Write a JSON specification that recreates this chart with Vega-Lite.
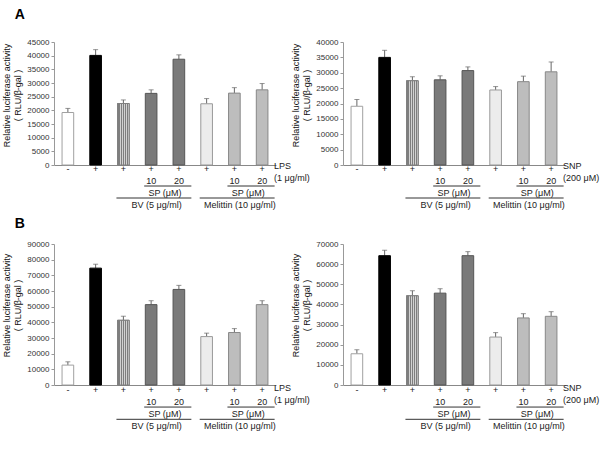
{
  "$schema": "https://vega.github.io/schema/vega-lite/v6.json",
  "padding": {"left": 2, "top": 8, "right": 0, "bottom": 0},
  "config": {
    "font": "Liberation Sans",
    "view": {"stroke": null},
    "axis": {"grid": false},
    "text": {"fontSize": 9, "color": "#222222"},
    "title": {"fontSize": 14, "fontWeight": "bold", "color": "#000000", "anchor": "start", "frame": "bounds"}
  },
  "datasets": {
    "bars": [
      {"p": "AL", "id": "1", "g": "ctrl", "v": 19200, "u": 20700},
      {"p": "AL", "id": "2", "g": "stim", "v": 40100, "u": 42200},
      {"p": "AL", "id": "3", "g": "bv", "v": 22500, "u": 23800},
      {"p": "AL", "id": "4", "g": "bvsp", "v": 26200, "u": 27500},
      {"p": "AL", "id": "5", "g": "bvsp", "v": 38700, "u": 40300},
      {"p": "AL", "id": "6", "g": "mel", "v": 22400, "u": 24300},
      {"p": "AL", "id": "7", "g": "melsp", "v": 26300, "u": 28300},
      {"p": "AL", "id": "8", "g": "melsp", "v": 27500, "u": 29800},
      {"p": "AR", "id": "1", "g": "ctrl", "v": 19100, "u": 21300},
      {"p": "AR", "id": "2", "g": "stim", "v": 35000, "u": 37300},
      {"p": "AR", "id": "3", "g": "bv", "v": 27400, "u": 28700},
      {"p": "AR", "id": "4", "g": "bvsp", "v": 27700, "u": 29000},
      {"p": "AR", "id": "5", "g": "bvsp", "v": 30700, "u": 31900},
      {"p": "AR", "id": "6", "g": "mel", "v": 24400, "u": 25500},
      {"p": "AR", "id": "7", "g": "melsp", "v": 27100, "u": 28900},
      {"p": "AR", "id": "8", "g": "melsp", "v": 30300, "u": 33500},
      {"p": "BL", "id": "1", "g": "ctrl", "v": 12700, "u": 14800},
      {"p": "BL", "id": "2", "g": "stim", "v": 74600, "u": 77100},
      {"p": "BL", "id": "3", "g": "bv", "v": 41300, "u": 43900},
      {"p": "BL", "id": "4", "g": "bvsp", "v": 51300, "u": 53800},
      {"p": "BL", "id": "5", "g": "bvsp", "v": 61000, "u": 63600},
      {"p": "BL", "id": "6", "g": "mel", "v": 30900, "u": 33100},
      {"p": "BL", "id": "7", "g": "melsp", "v": 33500, "u": 36000},
      {"p": "BL", "id": "8", "g": "melsp", "v": 51300, "u": 53800},
      {"p": "BR", "id": "1", "g": "ctrl", "v": 15500, "u": 17500},
      {"p": "BR", "id": "2", "g": "stim", "v": 64200, "u": 66900},
      {"p": "BR", "id": "3", "g": "bv", "v": 44300, "u": 46800},
      {"p": "BR", "id": "4", "g": "bvsp", "v": 45600, "u": 47800},
      {"p": "BR", "id": "5", "g": "bvsp", "v": 64200, "u": 66200},
      {"p": "BR", "id": "6", "g": "mel", "v": 23800, "u": 26000},
      {"p": "BR", "id": "7", "g": "melsp", "v": 33300, "u": 35400},
      {"p": "BR", "id": "8", "g": "melsp", "v": 34100, "u": 36400}
    ],
    "labels": [
      {"k": "pm", "row": "r1", "id": "1", "t": "-"},
      {"k": "pm", "row": "r1", "id": "2", "t": "+"},
      {"k": "pm", "row": "r1", "id": "3", "t": "+"},
      {"k": "pm", "row": "r1", "id": "4", "t": "+"},
      {"k": "pm", "row": "r1", "id": "5", "t": "+"},
      {"k": "pm", "row": "r1", "id": "6", "t": "+"},
      {"k": "pm", "row": "r1", "id": "7", "t": "+"},
      {"k": "pm", "row": "r1", "id": "8", "t": "+"},
      {"k": "pm", "row": "r2", "id": "4", "t": "10"},
      {"k": "pm", "row": "r2", "id": "5", "t": "20"},
      {"k": "pm", "row": "r2", "id": "7", "t": "10"},
      {"k": "pm", "row": "r2", "id": "8", "t": "20"},
      {"k": "sp", "row": "r3", "id": "4", "t": "SP (μM)"},
      {"k": "sp", "row": "r3", "id": "7", "t": "SP (μM)"},
      {"k": "ag", "row": "r4", "id": "4", "t": "BV (5  μg/ml)"},
      {"k": "ag", "row": "r4", "id": "7", "t": "Melittin (10 μg/ml)"},
      {"k": "LPS", "row": "r1", "id": "8", "t": "LPS"},
      {"k": "LPS", "row": "r2", "id": "8", "t": "(1 μg/ml)"},
      {"k": "SNP", "row": "r1", "id": "8", "t": "SNP"},
      {"k": "SNP", "row": "r2", "id": "8", "t": "(200 μM)"}
    ],
    "lines": [
      {"row": "r2", "a": "4", "b": "5"},
      {"row": "r2", "a": "7", "b": "8"},
      {"row": "r3", "a": "3", "b": "5"},
      {"row": "r3", "a": "6", "b": "8"}
    ]
  },
  "spacing": 4,
  "vconcat": [
    {
      "title": {"text": "A", "dx": 12, "offset": 16},
      "spacing": -19,
      "hconcat": [
        {
          "bounds": "flush",
          "spacing": 0,
          "vconcat": [
            {
              "width": 222, "height": 123,
              "data": {"name": "bars"},
              "transform": [{"filter": "datum.p === 'AL'"}],
              "encoding": {
                "x": {"field": "id", "type": "nominal", "scale": {"domain": ["1","2","3","4","5","6","7","8"], "paddingInner": 0, "paddingOuter": 0}, "axis": {"labels": false, "ticks": false, "title": null, "domainColor": "#888888"}},
                "y": {"field": "v", "type": "quantitative", "scale": {"domain": [0, 45000]}, "axis": {"values": [0,5000,10000,15000,20000,25000,30000,35000,40000,45000], "format": "d", "title": ["Relative luciferase activity", "( RLU/β-gal )"], "titleFontSize": 9, "titleFontWeight": "normal", "titleLineHeight": 11, "titlePadding": 4, "titleColor": "#111111", "titleY": 53, "labelFontSize": 8, "labelColor": "#333333", "labelPadding": 2, "tickSize": 3, "tickColor": "#999999", "domainColor": "#999999"}}
              },
              "layer": [
                {"mark": {"type": "rule", "color": "#666666"}, "encoding": {"y2": {"field": "u"}}},
                {"mark": {"type": "bar", "width": {"band": 0.42}, "strokeWidth": 1},
                 "encoding": {
                   "fill": {"field": "g", "type": "nominal", "scale": {"domain": ["ctrl","stim","bv","bvsp","mel","melsp"], "range": ["#ffffff","#000000","#a6a6a6","#7a7a7a","#ececec","#bdbdbd"]}, "legend": null},
                   "stroke": {"field": "g", "type": "nominal", "scale": {"domain": ["ctrl","stim","bv","bvsp","mel","melsp"], "range": ["#a0a0a0","#000000","#777777","#555555","#999999","#888888"]}, "legend": null}
                 }},
                {"transform": [{"filter": "datum.g === 'bv'"}], "mark": {"type": "bar", "width": {"band": 0.42}, "strokeWidth": 1, "stroke": "#808080", "fill": {"gradient": "linear", "x1": 0, "y1": 0, "x2": 1, "y2": 0, "stops": [{"offset": 0, "color": "#7e7e7e"}, {"offset": 0.0833, "color": "#7e7e7e"}, {"offset": 0.0833, "color": "#d2d2d2"}, {"offset": 0.1667, "color": "#d2d2d2"}, {"offset": 0.1667, "color": "#7e7e7e"}, {"offset": 0.25, "color": "#7e7e7e"}, {"offset": 0.25, "color": "#d2d2d2"}, {"offset": 0.3333, "color": "#d2d2d2"}, {"offset": 0.3333, "color": "#7e7e7e"}, {"offset": 0.4167, "color": "#7e7e7e"}, {"offset": 0.4167, "color": "#d2d2d2"}, {"offset": 0.5, "color": "#d2d2d2"}, {"offset": 0.5, "color": "#7e7e7e"}, {"offset": 0.5833, "color": "#7e7e7e"}, {"offset": 0.5833, "color": "#d2d2d2"}, {"offset": 0.6667, "color": "#d2d2d2"}, {"offset": 0.6667, "color": "#7e7e7e"}, {"offset": 0.75, "color": "#7e7e7e"}, {"offset": 0.75, "color": "#d2d2d2"}, {"offset": 0.8333, "color": "#d2d2d2"}, {"offset": 0.8333, "color": "#7e7e7e"}, {"offset": 0.9167, "color": "#7e7e7e"}, {"offset": 0.9167, "color": "#d2d2d2"}, {"offset": 1, "color": "#d2d2d2"}]}}},
                {"mark": {"type": "tick", "orient": "horizontal", "size": 5, "thickness": 1, "color": "#666666"}, "encoding": {"y": {"field": "u", "type": "quantitative"}}}
              ]
            },
            {
              "width": 222, "height": 48,
              "encoding": {
                "x": {"field": "id", "type": "nominal", "scale": {"domain": ["1","2","3","4","5","6","7","8"], "paddingInner": 0, "paddingOuter": 0}, "axis": null},
                "y": {"field": "row", "type": "nominal", "bandPosition": 0.5, "scale": {"type": "band", "domain": ["r1","r2","r3","r4"], "paddingInner": 0, "paddingOuter": 0}, "axis": null}
              },
              "layer": [
                {"data": {"name": "labels"}, "transform": [{"filter": "datum.k === 'pm'"}], "mark": {"type": "text", "dy": -2}, "encoding": {"x": {"field": "id", "type": "nominal", "bandPosition": 0.5}, "text": {"field": "t"}}},
                {"data": {"name": "labels"}, "transform": [{"filter": "datum.k === 'sp'"}], "mark": {"type": "text", "dy": -2}, "encoding": {"x": {"field": "id", "type": "nominal", "bandPosition": 1}, "text": {"field": "t"}}},
                {"data": {"name": "labels"}, "transform": [{"filter": "datum.k === 'ag'"}], "mark": {"type": "text", "dy": -2}, "encoding": {"x": {"field": "id", "type": "nominal", "bandPosition": 0.7}, "text": {"field": "t"}}},
                {"data": {"name": "labels"}, "transform": [{"filter": "datum.k === 'LPS'"}], "mark": {"type": "text", "dy": -5, "align": "left", "dx": -2}, "encoding": {"x": {"field": "id", "type": "nominal", "bandPosition": 1}, "text": {"field": "t"}}},
                {"data": {"name": "lines"}, "mark": {"type": "rule", "color": "#333333"}, "encoding": {"x": {"field": "a", "type": "nominal", "bandPosition": 0.25}, "x2": {"field": "b", "bandPosition": 0.95}, "y": {"field": "row", "type": "nominal", "bandPosition": 0.75}}}
              ]
            }
          ]
        },
        {
          "bounds": "flush",
          "spacing": 0,
          "vconcat": [
            {
              "width": 222, "height": 123,
              "data": {"name": "bars"},
              "transform": [{"filter": "datum.p === 'AR'"}],
              "encoding": {
                "x": {"field": "id", "type": "nominal", "scale": {"domain": ["1","2","3","4","5","6","7","8"], "paddingInner": 0, "paddingOuter": 0}, "axis": {"labels": false, "ticks": false, "title": null, "domainColor": "#888888"}},
                "y": {"field": "v", "type": "quantitative", "scale": {"domain": [0, 40000]}, "axis": {"values": [0,5000,10000,15000,20000,25000,30000,35000,40000], "format": "d", "title": ["Relative luciferase activity", "( RLU/β-gal )"], "titleFontSize": 9, "titleFontWeight": "normal", "titleLineHeight": 11, "titlePadding": 4, "titleColor": "#111111", "titleY": 53, "labelFontSize": 8, "labelColor": "#333333", "labelPadding": 2, "tickSize": 3, "tickColor": "#999999", "domainColor": "#999999"}}
              },
              "layer": [
                {"mark": {"type": "rule", "color": "#666666"}, "encoding": {"y2": {"field": "u"}}},
                {"mark": {"type": "bar", "width": {"band": 0.42}, "strokeWidth": 1},
                 "encoding": {
                   "fill": {"field": "g", "type": "nominal", "scale": {"domain": ["ctrl","stim","bv","bvsp","mel","melsp"], "range": ["#ffffff","#000000","#a6a6a6","#7a7a7a","#ececec","#bdbdbd"]}, "legend": null},
                   "stroke": {"field": "g", "type": "nominal", "scale": {"domain": ["ctrl","stim","bv","bvsp","mel","melsp"], "range": ["#a0a0a0","#000000","#777777","#555555","#999999","#888888"]}, "legend": null}
                 }},
                {"transform": [{"filter": "datum.g === 'bv'"}], "mark": {"type": "bar", "width": {"band": 0.42}, "strokeWidth": 1, "stroke": "#808080", "fill": {"gradient": "linear", "x1": 0, "y1": 0, "x2": 1, "y2": 0, "stops": [{"offset": 0, "color": "#7e7e7e"}, {"offset": 0.0833, "color": "#7e7e7e"}, {"offset": 0.0833, "color": "#d2d2d2"}, {"offset": 0.1667, "color": "#d2d2d2"}, {"offset": 0.1667, "color": "#7e7e7e"}, {"offset": 0.25, "color": "#7e7e7e"}, {"offset": 0.25, "color": "#d2d2d2"}, {"offset": 0.3333, "color": "#d2d2d2"}, {"offset": 0.3333, "color": "#7e7e7e"}, {"offset": 0.4167, "color": "#7e7e7e"}, {"offset": 0.4167, "color": "#d2d2d2"}, {"offset": 0.5, "color": "#d2d2d2"}, {"offset": 0.5, "color": "#7e7e7e"}, {"offset": 0.5833, "color": "#7e7e7e"}, {"offset": 0.5833, "color": "#d2d2d2"}, {"offset": 0.6667, "color": "#d2d2d2"}, {"offset": 0.6667, "color": "#7e7e7e"}, {"offset": 0.75, "color": "#7e7e7e"}, {"offset": 0.75, "color": "#d2d2d2"}, {"offset": 0.8333, "color": "#d2d2d2"}, {"offset": 0.8333, "color": "#7e7e7e"}, {"offset": 0.9167, "color": "#7e7e7e"}, {"offset": 0.9167, "color": "#d2d2d2"}, {"offset": 1, "color": "#d2d2d2"}]}}},
                {"mark": {"type": "tick", "orient": "horizontal", "size": 5, "thickness": 1, "color": "#666666"}, "encoding": {"y": {"field": "u", "type": "quantitative"}}}
              ]
            },
            {
              "width": 222, "height": 48,
              "encoding": {
                "x": {"field": "id", "type": "nominal", "scale": {"domain": ["1","2","3","4","5","6","7","8"], "paddingInner": 0, "paddingOuter": 0}, "axis": null},
                "y": {"field": "row", "type": "nominal", "bandPosition": 0.5, "scale": {"type": "band", "domain": ["r1","r2","r3","r4"], "paddingInner": 0, "paddingOuter": 0}, "axis": null}
              },
              "layer": [
                {"data": {"name": "labels"}, "transform": [{"filter": "datum.k === 'pm'"}], "mark": {"type": "text", "dy": -2}, "encoding": {"x": {"field": "id", "type": "nominal", "bandPosition": 0.5}, "text": {"field": "t"}}},
                {"data": {"name": "labels"}, "transform": [{"filter": "datum.k === 'sp'"}], "mark": {"type": "text", "dy": -2}, "encoding": {"x": {"field": "id", "type": "nominal", "bandPosition": 1}, "text": {"field": "t"}}},
                {"data": {"name": "labels"}, "transform": [{"filter": "datum.k === 'ag'"}], "mark": {"type": "text", "dy": -2}, "encoding": {"x": {"field": "id", "type": "nominal", "bandPosition": 0.7}, "text": {"field": "t"}}},
                {"data": {"name": "labels"}, "transform": [{"filter": "datum.k === 'SNP'"}], "mark": {"type": "text", "dy": -5, "align": "left", "dx": -2}, "encoding": {"x": {"field": "id", "type": "nominal", "bandPosition": 1}, "text": {"field": "t"}}},
                {"data": {"name": "lines"}, "mark": {"type": "rule", "color": "#333333"}, "encoding": {"x": {"field": "a", "type": "nominal", "bandPosition": 0.25}, "x2": {"field": "b", "bandPosition": 0.95}, "y": {"field": "row", "type": "nominal", "bandPosition": 0.75}}}
              ]
            }
          ]
        }
      ]
    },
    {
      "title": {"text": "B", "dx": 12, "offset": 9},
      "spacing": -19,
      "hconcat": [
        {
          "bounds": "flush",
          "spacing": 0,
          "vconcat": [
            {
              "width": 222, "height": 141,
              "data": {"name": "bars"},
              "transform": [{"filter": "datum.p === 'BL'"}],
              "encoding": {
                "x": {"field": "id", "type": "nominal", "scale": {"domain": ["1","2","3","4","5","6","7","8"], "paddingInner": 0, "paddingOuter": 0}, "axis": {"labels": false, "ticks": false, "title": null, "domainColor": "#888888"}},
                "y": {"field": "v", "type": "quantitative", "scale": {"domain": [0, 90000]}, "axis": {"values": [0,10000,20000,30000,40000,50000,60000,70000,80000,90000], "format": "d", "title": ["Relative luciferase activity", "( RLU/β-gal )"], "titleFontSize": 9, "titleFontWeight": "normal", "titleLineHeight": 11, "titlePadding": 4, "titleColor": "#111111", "titleY": 61, "labelFontSize": 8, "labelColor": "#333333", "labelPadding": 2, "tickSize": 3, "tickColor": "#999999", "domainColor": "#999999"}}
              },
              "layer": [
                {"mark": {"type": "rule", "color": "#666666"}, "encoding": {"y2": {"field": "u"}}},
                {"mark": {"type": "bar", "width": {"band": 0.42}, "strokeWidth": 1},
                 "encoding": {
                   "fill": {"field": "g", "type": "nominal", "scale": {"domain": ["ctrl","stim","bv","bvsp","mel","melsp"], "range": ["#ffffff","#000000","#a6a6a6","#7a7a7a","#ececec","#bdbdbd"]}, "legend": null},
                   "stroke": {"field": "g", "type": "nominal", "scale": {"domain": ["ctrl","stim","bv","bvsp","mel","melsp"], "range": ["#a0a0a0","#000000","#777777","#555555","#999999","#888888"]}, "legend": null}
                 }},
                {"transform": [{"filter": "datum.g === 'bv'"}], "mark": {"type": "bar", "width": {"band": 0.42}, "strokeWidth": 1, "stroke": "#808080", "fill": {"gradient": "linear", "x1": 0, "y1": 0, "x2": 1, "y2": 0, "stops": [{"offset": 0, "color": "#7e7e7e"}, {"offset": 0.0833, "color": "#7e7e7e"}, {"offset": 0.0833, "color": "#d2d2d2"}, {"offset": 0.1667, "color": "#d2d2d2"}, {"offset": 0.1667, "color": "#7e7e7e"}, {"offset": 0.25, "color": "#7e7e7e"}, {"offset": 0.25, "color": "#d2d2d2"}, {"offset": 0.3333, "color": "#d2d2d2"}, {"offset": 0.3333, "color": "#7e7e7e"}, {"offset": 0.4167, "color": "#7e7e7e"}, {"offset": 0.4167, "color": "#d2d2d2"}, {"offset": 0.5, "color": "#d2d2d2"}, {"offset": 0.5, "color": "#7e7e7e"}, {"offset": 0.5833, "color": "#7e7e7e"}, {"offset": 0.5833, "color": "#d2d2d2"}, {"offset": 0.6667, "color": "#d2d2d2"}, {"offset": 0.6667, "color": "#7e7e7e"}, {"offset": 0.75, "color": "#7e7e7e"}, {"offset": 0.75, "color": "#d2d2d2"}, {"offset": 0.8333, "color": "#d2d2d2"}, {"offset": 0.8333, "color": "#7e7e7e"}, {"offset": 0.9167, "color": "#7e7e7e"}, {"offset": 0.9167, "color": "#d2d2d2"}, {"offset": 1, "color": "#d2d2d2"}]}}},
                {"mark": {"type": "tick", "orient": "horizontal", "size": 5, "thickness": 1, "color": "#666666"}, "encoding": {"y": {"field": "u", "type": "quantitative"}}}
              ]
            },
            {
              "width": 222, "height": 49,
              "encoding": {
                "x": {"field": "id", "type": "nominal", "scale": {"domain": ["1","2","3","4","5","6","7","8"], "paddingInner": 0, "paddingOuter": 0}, "axis": null},
                "y": {"field": "row", "type": "nominal", "bandPosition": 0.5, "scale": {"type": "band", "domain": ["r1","r2","r3","r4"], "paddingInner": 0, "paddingOuter": 0}, "axis": null}
              },
              "layer": [
                {"data": {"name": "labels"}, "transform": [{"filter": "datum.k === 'pm'"}], "mark": {"type": "text", "dy": -1.5}, "encoding": {"x": {"field": "id", "type": "nominal", "bandPosition": 0.5}, "text": {"field": "t"}}},
                {"data": {"name": "labels"}, "transform": [{"filter": "datum.k === 'sp'"}], "mark": {"type": "text", "dy": -1.5}, "encoding": {"x": {"field": "id", "type": "nominal", "bandPosition": 1}, "text": {"field": "t"}}},
                {"data": {"name": "labels"}, "transform": [{"filter": "datum.k === 'ag'"}], "mark": {"type": "text", "dy": -1.5}, "encoding": {"x": {"field": "id", "type": "nominal", "bandPosition": 0.7}, "text": {"field": "t"}}},
                {"data": {"name": "labels"}, "transform": [{"filter": "datum.k === 'LPS'"}], "mark": {"type": "text", "dy": -3, "align": "left", "dx": -2}, "encoding": {"x": {"field": "id", "type": "nominal", "bandPosition": 1}, "text": {"field": "t"}}},
                {"data": {"name": "lines"}, "mark": {"type": "rule", "color": "#333333"}, "encoding": {"x": {"field": "a", "type": "nominal", "bandPosition": 0.25}, "x2": {"field": "b", "bandPosition": 0.95}, "y": {"field": "row", "type": "nominal", "bandPosition": 0.8}}}
              ]
            }
          ]
        },
        {
          "bounds": "flush",
          "spacing": 0,
          "vconcat": [
            {
              "width": 222, "height": 141,
              "data": {"name": "bars"},
              "transform": [{"filter": "datum.p === 'BR'"}],
              "encoding": {
                "x": {"field": "id", "type": "nominal", "scale": {"domain": ["1","2","3","4","5","6","7","8"], "paddingInner": 0, "paddingOuter": 0}, "axis": {"labels": false, "ticks": false, "title": null, "domainColor": "#888888"}},
                "y": {"field": "v", "type": "quantitative", "scale": {"domain": [0, 70000]}, "axis": {"values": [0,10000,20000,30000,40000,50000,60000,70000], "format": "d", "title": ["Relative luciferase activity", "( RLU/β-gal )"], "titleFontSize": 9, "titleFontWeight": "normal", "titleLineHeight": 11, "titlePadding": 4, "titleColor": "#111111", "titleY": 61, "labelFontSize": 8, "labelColor": "#333333", "labelPadding": 2, "tickSize": 3, "tickColor": "#999999", "domainColor": "#999999"}}
              },
              "layer": [
                {"mark": {"type": "rule", "color": "#666666"}, "encoding": {"y2": {"field": "u"}}},
                {"mark": {"type": "bar", "width": {"band": 0.42}, "strokeWidth": 1},
                 "encoding": {
                   "fill": {"field": "g", "type": "nominal", "scale": {"domain": ["ctrl","stim","bv","bvsp","mel","melsp"], "range": ["#ffffff","#000000","#a6a6a6","#7a7a7a","#ececec","#bdbdbd"]}, "legend": null},
                   "stroke": {"field": "g", "type": "nominal", "scale": {"domain": ["ctrl","stim","bv","bvsp","mel","melsp"], "range": ["#a0a0a0","#000000","#777777","#555555","#999999","#888888"]}, "legend": null}
                 }},
                {"transform": [{"filter": "datum.g === 'bv'"}], "mark": {"type": "bar", "width": {"band": 0.42}, "strokeWidth": 1, "stroke": "#808080", "fill": {"gradient": "linear", "x1": 0, "y1": 0, "x2": 1, "y2": 0, "stops": [{"offset": 0, "color": "#7e7e7e"}, {"offset": 0.0833, "color": "#7e7e7e"}, {"offset": 0.0833, "color": "#d2d2d2"}, {"offset": 0.1667, "color": "#d2d2d2"}, {"offset": 0.1667, "color": "#7e7e7e"}, {"offset": 0.25, "color": "#7e7e7e"}, {"offset": 0.25, "color": "#d2d2d2"}, {"offset": 0.3333, "color": "#d2d2d2"}, {"offset": 0.3333, "color": "#7e7e7e"}, {"offset": 0.4167, "color": "#7e7e7e"}, {"offset": 0.4167, "color": "#d2d2d2"}, {"offset": 0.5, "color": "#d2d2d2"}, {"offset": 0.5, "color": "#7e7e7e"}, {"offset": 0.5833, "color": "#7e7e7e"}, {"offset": 0.5833, "color": "#d2d2d2"}, {"offset": 0.6667, "color": "#d2d2d2"}, {"offset": 0.6667, "color": "#7e7e7e"}, {"offset": 0.75, "color": "#7e7e7e"}, {"offset": 0.75, "color": "#d2d2d2"}, {"offset": 0.8333, "color": "#d2d2d2"}, {"offset": 0.8333, "color": "#7e7e7e"}, {"offset": 0.9167, "color": "#7e7e7e"}, {"offset": 0.9167, "color": "#d2d2d2"}, {"offset": 1, "color": "#d2d2d2"}]}}},
                {"mark": {"type": "tick", "orient": "horizontal", "size": 5, "thickness": 1, "color": "#666666"}, "encoding": {"y": {"field": "u", "type": "quantitative"}}}
              ]
            },
            {
              "width": 222, "height": 49,
              "encoding": {
                "x": {"field": "id", "type": "nominal", "scale": {"domain": ["1","2","3","4","5","6","7","8"], "paddingInner": 0, "paddingOuter": 0}, "axis": null},
                "y": {"field": "row", "type": "nominal", "bandPosition": 0.5, "scale": {"type": "band", "domain": ["r1","r2","r3","r4"], "paddingInner": 0, "paddingOuter": 0}, "axis": null}
              },
              "layer": [
                {"data": {"name": "labels"}, "transform": [{"filter": "datum.k === 'pm'"}], "mark": {"type": "text", "dy": -1.5}, "encoding": {"x": {"field": "id", "type": "nominal", "bandPosition": 0.5}, "text": {"field": "t"}}},
                {"data": {"name": "labels"}, "transform": [{"filter": "datum.k === 'sp'"}], "mark": {"type": "text", "dy": -1.5}, "encoding": {"x": {"field": "id", "type": "nominal", "bandPosition": 1}, "text": {"field": "t"}}},
                {"data": {"name": "labels"}, "transform": [{"filter": "datum.k === 'ag'"}], "mark": {"type": "text", "dy": -1.5}, "encoding": {"x": {"field": "id", "type": "nominal", "bandPosition": 0.7}, "text": {"field": "t"}}},
                {"data": {"name": "labels"}, "transform": [{"filter": "datum.k === 'SNP'"}], "mark": {"type": "text", "dy": -3, "align": "left", "dx": -2}, "encoding": {"x": {"field": "id", "type": "nominal", "bandPosition": 1}, "text": {"field": "t"}}},
                {"data": {"name": "lines"}, "mark": {"type": "rule", "color": "#333333"}, "encoding": {"x": {"field": "a", "type": "nominal", "bandPosition": 0.25}, "x2": {"field": "b", "bandPosition": 0.95}, "y": {"field": "row", "type": "nominal", "bandPosition": 0.8}}}
              ]
            }
          ]
        }
      ]
    }
  ]
}
